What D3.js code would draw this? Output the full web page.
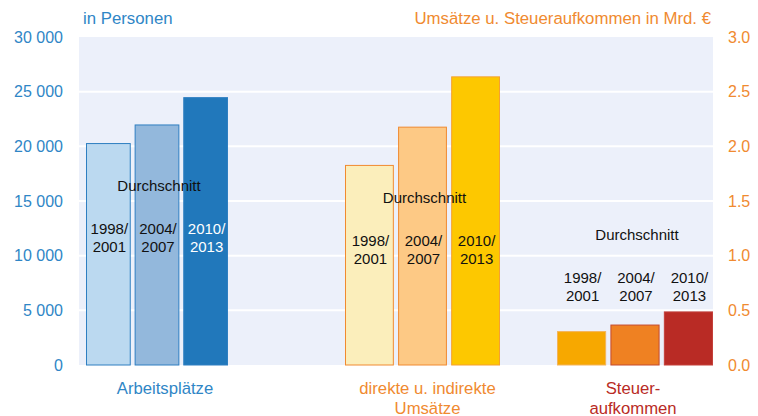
<!DOCTYPE html>
<html>
<head>
<meta charset="utf-8">
<script src="https://cdn.jsdelivr.net/npm/d3@7"></script>
<style>
  body { margin: 0; background: #fff; }
  text { font-family: "Liberation Sans", Arial, sans-serif; }
</style>
</head>
<body>
<script>
// data
var categories = ["Arbeitsplätze", "Umsätze", "Steuer"];
var periods = ["1998/2001", "2004/2007", "2010/2013"];
var jobs = [20300, 22000, 24500];          // in Personen (left axis)
var sales = [1.83, 2.18, 2.64];            // Mrd. € (right axis)
var taxes = [0.31, 0.37, 0.49];            // Mrd. € (right axis)
var leftTicks = [0, 5000, 10000, 15000, 20000, 25000, 30000];
var rightTicks = [0, 0.5, 1.0, 1.5, 2.0, 2.5, 3.0];
var categoryLabels = [["Arbeitsplätze"], ["direkte u. indirekte", "Umsätze"], ["Steuer-", "aufkommen"]];

// SVG size / plot box
var w_svg = 758, h_svg = 416;
var plotLeft = 79, plotRight = 713, plotTop = 37, plotBottom = 365;

var svg = d3.select("body").append("svg")
  .attr("width", w_svg).attr("height", h_svg);

// scales
var yLeft = d3.scaleLinear().domain([0, 30000]).range([plotBottom, plotTop]);
var yRight = d3.scaleLinear().domain([0, 3]).range([plotBottom, plotTop]);
var xGroup = d3.scaleOrdinal().domain(categories).range([157, 422.5, 635]);
var groupWidth = d3.scaleOrdinal().domain(categories).range([142, 155, 156]);

// background + grid
svg.append("rect").attr("x", plotLeft).attr("y", plotTop)
  .attr("width", plotRight - plotLeft).attr("height", plotBottom - plotTop)
  .attr("fill", "#ecf0fa");
svg.selectAll("line.grid").data(leftTicks.slice(1, -1)).enter()
  .append("line").attr("class", "grid")
  .attr("x1", plotLeft).attr("x2", plotRight)
  .attr("y1", function(d){ return yLeft(d); })
  .attr("y2", function(d){ return yLeft(d); })
  .attr("stroke", "#fff").attr("stroke-width", 2);

// bar groups
var groups = [
  {cat: "Arbeitsplätze", values: jobs, y: yLeft,
   fill: ["#bbd9f0", "#93b8dc", "#2178bb"], stroke: ["#2f7fc1", "#2f7fc1", "#2f7fc1"],
   textFill: ["#111", "#111", "#fff"], labelAt: 16370},
  {cat: "Umsätze", values: sales, y: yRight,
   fill: ["#fbeebb", "#fdc985", "#fdc800"], stroke: ["#f08a30", "#f08a30", "#f5a030"],
   textFill: ["#111", "#111", "#111"], labelAt: 1.53},
  {cat: "Steuer", values: taxes, y: yRight,
   fill: ["#f7a800", "#ef8122", "#b92b25"], stroke: ["#f3b35a", "#c44a2e", "#c4403a"],
   textFill: ["#111", "#111", "#111"], labelAt: 1.19}
];

groups.forEach(function(g) {
  var gw = groupWidth(g.cat);
  var xInner = d3.scaleBand().domain(periods)
    .range([xGroup(g.cat) - gw / 2, xGroup(g.cat) + gw / 2]).paddingInner(0.08);
  svg.selectAll(null).data(g.values).enter().append("rect")
    .attr("x", function(d, i){ return xInner(periods[i]) + 0.5; })
    .attr("y", function(d){ return g.y(d) + 0.5; })
    .attr("width", xInner.bandwidth() - 1)
    .attr("height", function(d){ return plotBottom - g.y(d) - 0.5; })
    .attr("fill", function(d, i){ return g.fill[i]; })
    .attr("stroke", function(d, i){ return g.stroke[i]; })
    .attr("stroke-width", 1);

  // "Durchschnitt" + period labels
  var ly = g.y(g.labelAt);
  svg.append("text").attr("x", xGroup(g.cat) + 2).attr("y", ly + 5)
    .attr("text-anchor", "middle").style("font-size", "15px").attr("fill", "#111")
    .text("Durchschnitt");
  periods.forEach(function(p, i) {
    var parts = p.split("/");
    var t = svg.append("text").attr("text-anchor", "middle")
      .style("font-size", "15px").attr("fill", g.textFill[i]);
    t.append("tspan").attr("x", xInner(p) + xInner.bandwidth() / 2 + 1).attr("y", ly + 48).text(parts[0] + "/");
    t.append("tspan").attr("x", xInner(p) + xInner.bandwidth() / 2 + 1).attr("y", ly + 66).text(parts[1]);
  });
});

// axes
var axL = svg.append("g").attr("transform", "translate(" + plotLeft + ",0)")
  .call(d3.axisLeft(yLeft).tickValues(leftTicks).tickSize(0).tickPadding(16)
    .tickFormat(function(d){ return d3.format(",")(d).replace(",", " "); }));
axL.select(".domain").remove();
axL.selectAll("text").style("font-size", "16px").attr("fill", "#2f86c6")
  .attr("font-family", "Liberation Sans, Arial, sans-serif");

var axR = svg.append("g").attr("transform", "translate(" + plotRight + ",0)")
  .call(d3.axisRight(yRight).tickValues(rightTicks).tickSize(0).tickPadding(15)
    .tickFormat(d3.format(".1f")));
axR.select(".domain").remove();
axR.selectAll("text").style("font-size", "16px").attr("fill", "#f08a30")
  .attr("font-family", "Liberation Sans, Arial, sans-serif");

// axis titles
svg.append("text").attr("x", 83).attr("y", 24).style("font-size", "16.8px")
  .attr("fill", "#2f86c6").text("in Personen");
svg.append("text").attr("x", 711).attr("y", 24).attr("text-anchor", "end")
  .style("font-size", "16.8px").attr("fill", "#f08a30")
  .text("Umsätze u. Steueraufkommen in Mrd. €");

// category labels
var catColors = ["#2f86c6", "#f08a30", "#b92b25"];
var catShift = [8, 5, -2];
categories.forEach(function(c, i) {
  var t = svg.append("text").attr("text-anchor", "middle")
    .style("font-size", "16.7px").attr("fill", catColors[i]);
  categoryLabels[i].forEach(function(line, j) {
    t.append("tspan").attr("x", xGroup(c) + catShift[i]).attr("y", 394 + j * 20).text(line);
  });
});
</script>
</body>
</html>
